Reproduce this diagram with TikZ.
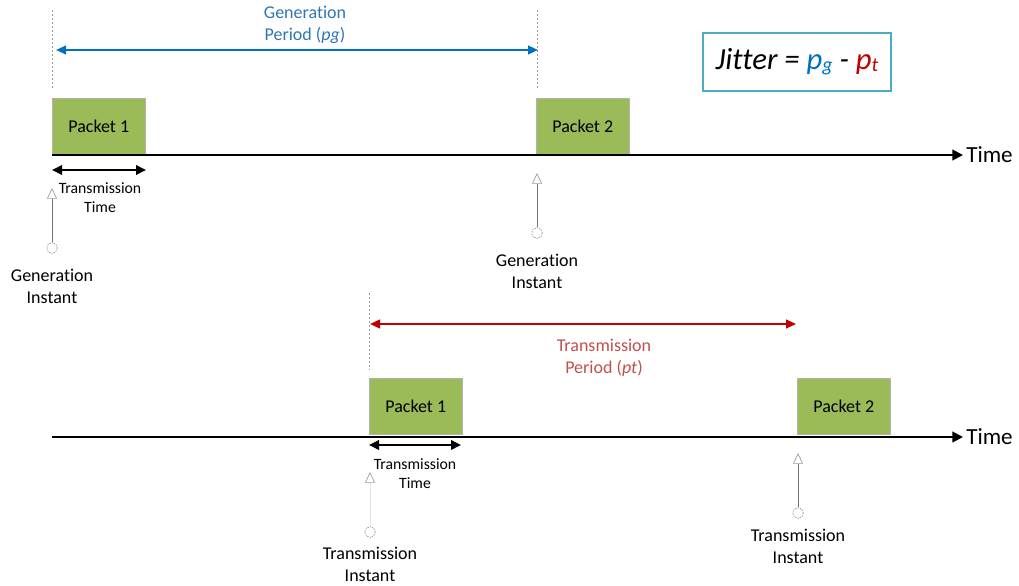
\documentclass[tikz,border=0pt]{standalone}
\usepackage{fontspec}
\setmainfont{Carlito}[Ligatures={NoCommon,NoRare,NoDiscretionary}]
\usetikzlibrary{arrows.meta}

\definecolor{pkt}{HTML}{9BBB59}
\definecolor{genblue}{HTML}{0070C0}
\definecolor{genlbl}{HTML}{2E75B6}
\definecolor{trred}{HTML}{C00000}
\definecolor{trlbl}{HTML}{C0504D}
\definecolor{boxblue}{HTML}{4BACC6}

\begin{document}
\begin{tikzpicture}[x=0.75pt,y=-0.75pt,
  packet/.style={draw=black!30, line width=0.4pt, fill=pkt, inner sep=0pt,
    minimum width=69.75pt, minimum height=42pt, anchor=south west,
    font=\fontsize{13.5}{16}\selectfont},
  axis/.style={line width=1.5pt, -{Triangle[length=8pt,width=8pt]}},
  timelbl/.style={anchor=west, inner sep=0pt, font=\fontsize{17.3}{20}\selectfont},
  guide/.style={draw=black!40, line width=0.5pt, dash pattern=on 1.5pt off 1.5pt},
  span/.style={line width=1.5pt, {Triangle[length=7.5pt,width=6.5pt]}-{Triangle[length=7.5pt,width=6.5pt]}},
  ttime/.style={line width=1.8pt, {Triangle[length=7.5pt,width=7pt]}-{Triangle[length=7.5pt,width=7pt]}},
  smalllbl/.style={align=center, inner sep=0pt, font=\fontsize{11.8}{14.3}\selectfont},
  lbl/.style={align=center, inner sep=0pt, font=\fontsize{13.5}{16.5}\selectfont},
  dot/.style={circle, draw=black!45, dash pattern=on 1pt off 0.8pt, line width=0.5pt,
    minimum size=8pt, inner sep=0pt, fill=white},
  instarrow/.style={line width=0.6pt, draw=black!55,
    -{Triangle[open,length=8pt,width=7.5pt,color=black!40,line width=0.5pt]}},
  sublet/.style={},
]
\useasboundingbox (0,0) rectangle (1019,585);

% ---------- generation side (upper time line) ----------
\coordinate (axA0) at (52,155);
\coordinate (axA1) at (963,155);
\node[packet] (gp1) at (52,155) {Packet 1};
\node[packet] (gp2) at (536,155) {Packet 2};
\draw[axis] (axA0) -- (axA1);
\node[timelbl] (timeA) at (966,155) {Time};

\coordinate (gA0) at (52,10);  \coordinate (gA1) at (52,88);
\coordinate (gB0) at (537,10); \coordinate (gB1) at (537,88);
\draw[guide] (gA0) -- (gA1);
\draw[guide] (gB0) -- (gB1);

\coordinate (gpL) at (56,50);
\coordinate (gpR) at (538,50);
\draw[span, genblue] (gpL) -- (gpR);
\node[lbl, text=genlbl] (gplbl) at (305,25) {Generation\\Period (\textit{pg})};

\coordinate (ttAL) at (52,170);
\coordinate (ttAR) at (146,170);
\draw[ttime] (ttAL) -- (ttAR);
\node[smalllbl] (ttAlbl) at (100,198) {Transmission\\Time};

\node[dot] (gi1) at (52,248) {};
\coordinate (gi1tip) at (52,188);
\draw[instarrow] (gi1) -- (gi1tip);
\node[lbl] (gi1lbl) at (52,286) {Generation\\Instant};

\node[dot] (gi2) at (537,233) {};
\coordinate (gi2tip) at (537,173);
\draw[instarrow] (gi2) -- (gi2tip);
\node[lbl] (gi2lbl) at (537,271) {Generation\\Instant};

% ---------- jitter formula ----------
\newcommand{\smallidx}[1]{\raisebox{-1.5pt}{\fontsize{15}{15}\selectfont #1}}
\node[draw=boxblue, line width=1.5pt, minimum width=141pt, minimum height=42.75pt,
  inner sep=0pt, font=\fontsize{23}{26}\selectfont\itshape] (jitter) at (797,62)
  {Jitter = \textcolor{genblue}{p\smallidx{g}}
   - \textcolor{trred}{p\smallidx{t}}};

% ---------- transmission side (lower time line) ----------
\coordinate (axB0) at (52,437);
\coordinate (axB1) at (963,437);
\node[packet] (tp1) at (369,435) {Packet 1};
\node[packet] (tp2) at (797,435) {Packet 2};
\draw[axis] (axB0) -- (axB1);
\node[timelbl] (timeB) at (966,437) {Time};

\coordinate (gC0) at (369,293); \coordinate (gC1) at (369,370);
\draw[guide] (gC0) -- (gC1);

\coordinate (tpL) at (370,324);
\coordinate (tpR) at (796,324);
\draw[span, trred] (tpL) -- (tpR);
\node[lbl, text=trlbl] (tplbl) at (604,358) {Transmission\\Period (\textit{pt})};

\coordinate (ttBL) at (369,445);
\coordinate (ttBR) at (461,445);
\draw[ttime] (ttBL) -- (ttBR);
\node[smalllbl] (ttBlbl) at (415,474) {Transmission\\Time};

\node[dot] (ti1) at (370,532) {};
\coordinate (ti1tip) at (370,472);
\draw[instarrow, draw=black!10] (ti1) -- (ti1tip);
\node[lbl] (ti1lbl) at (370,564) {Transmission\\Instant};

\node[dot] (ti2) at (798,513) {};
\coordinate (ti2tip) at (798,453);
\draw[instarrow] (ti2) -- (ti2tip);
\node[lbl] (ti2lbl) at (798,546) {Transmission\\Instant};
\end{tikzpicture}
\end{document}
